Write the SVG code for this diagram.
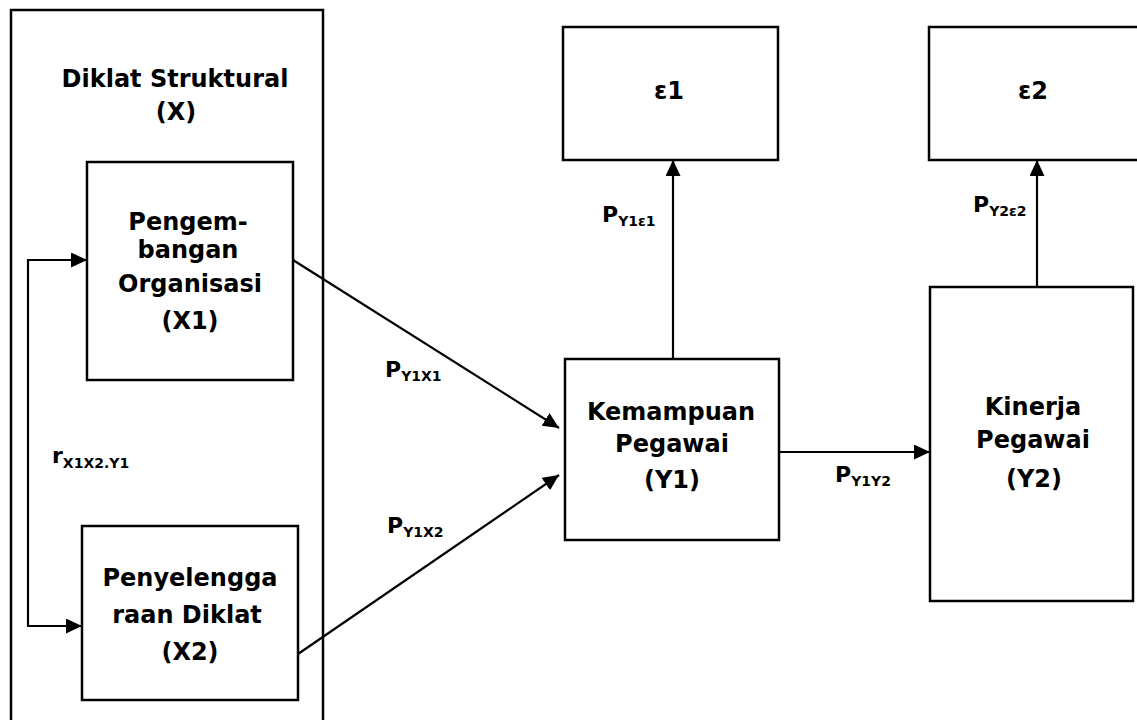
<svg xmlns="http://www.w3.org/2000/svg" width="1137" height="720" viewBox="0 0 1137 720">
<defs>
<style>
.box{fill:#fff;stroke:#000;stroke-width:2.5}
.outer{fill:none;stroke:#000;stroke-width:2.5}
.t{font-family:"DejaVu Sans",Verdana,sans-serif;font-weight:bold;font-size:24px;fill:#000;text-anchor:middle}
.lbl{font-family:"DejaVu Sans",Verdana,sans-serif;font-weight:bold;font-size:22px;fill:#000}
.sub{font-size:14px}
.con{fill:none;stroke:#000;stroke-width:2.2}
</style>
<marker id="ah" markerUnits="userSpaceOnUse" markerWidth="17" markerHeight="15" refX="16" refY="7.5" orient="auto-start-reverse">
<path d="M0,0 L16,7.5 L0,15 Z" fill="#000"/>
</marker>
</defs>
<rect width="1137" height="720" fill="#fff"/>
<g id="diklat-struktural">
<rect class="outer" x="11" y="10" width="312" height="730"/>
<text class="t" x="175" y="87">Diklat Struktural</text>
<text class="t" x="176" y="120">(X)</text>
</g>
<g id="x1">
<rect class="box" x="87" y="162" width="206" height="218"/>
<text class="t" x="188" y="230">Pengem-</text>
<text class="t" x="188" y="258">bangan</text>
<text class="t" x="190" y="292">Organisasi</text>
<text class="t" x="190" y="329">(X1)</text>
</g>
<g id="x2">
<rect class="box" x="82" y="526" width="216" height="174"/>
<text class="t" x="190" y="586">Penyelengga</text>
<text class="t" x="187" y="623">raan Diklat</text>
<text class="t" x="190" y="660">(X2)</text>
</g>
<g id="y1">
<rect class="box" x="565" y="359" width="214" height="181"/>
<text class="t" x="671" y="420">Kemampuan</text>
<text class="t" x="672" y="452">Pegawai</text>
<text class="t" x="672" y="488">(Y1)</text>
</g>
<g id="y2">
<rect class="box" x="930" y="287" width="203" height="314"/>
<text class="t" x="1033" y="415">Kinerja</text>
<text class="t" x="1033" y="448">Pegawai</text>
<text class="t" x="1034" y="487">(Y2)</text>
</g>
<g id="e1">
<rect class="box" x="563" y="27" width="215" height="133"/>
<text class="t" x="669" y="99">ε1</text>
</g>
<g id="e2">
<rect class="box" x="929" y="27" width="215" height="133"/>
<text class="t" x="1033" y="99">ε2</text>
</g>
<g id="connectors">
<path class="con" d="M87,260 L28,260 L28,626 L82,626" marker-start="url(#ah)" marker-end="url(#ah)"/>
<line class="con" x1="293" y1="260" x2="559" y2="428" marker-end="url(#ah)"/>
<line class="con" x1="298" y1="654" x2="559" y2="475" marker-end="url(#ah)"/>
<line class="con" x1="779" y1="452" x2="930" y2="452" marker-end="url(#ah)"/>
<line class="con" x1="673" y1="359" x2="673" y2="160" marker-end="url(#ah)"/>
<line class="con" x1="1037" y1="287" x2="1037" y2="160" marker-end="url(#ah)"/>
</g>
<g id="labels">
<text class="lbl" x="52" y="463">r<tspan class="sub" dy="5">X1X2.Y1</tspan></text>
<text class="lbl" x="385" y="377">P<tspan class="sub" dy="4">Y1X1</tspan></text>
<text class="lbl" x="387" y="533">P<tspan class="sub" dy="4">Y1X2</tspan></text>
<text class="lbl" x="602" y="222">P<tspan class="sub" dy="4">Y1ε1</tspan></text>
<text class="lbl" x="973" y="212">P<tspan class="sub" dy="4">Y2ε2</tspan></text>
<text class="lbl" x="835" y="482">P<tspan class="sub" dy="4">Y1Y2</tspan></text>
</g>
</svg>
